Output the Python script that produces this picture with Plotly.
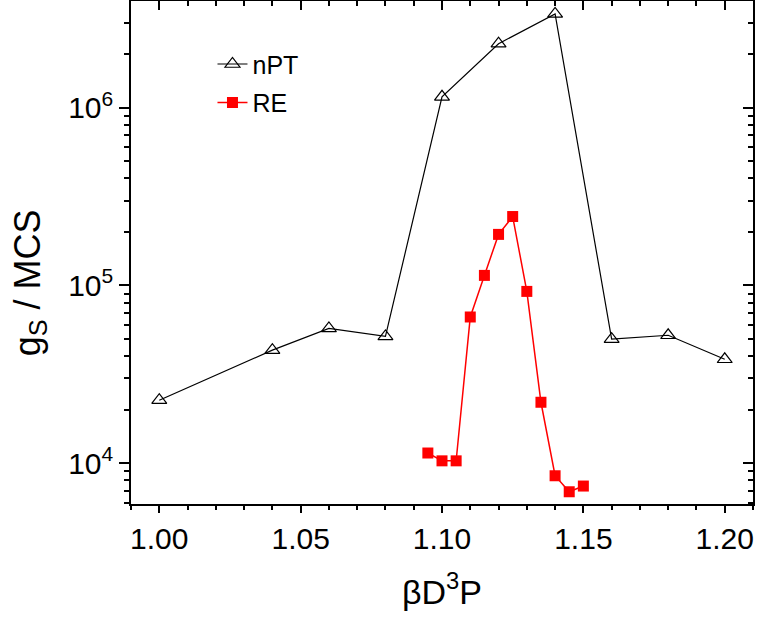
import plotly.graph_objects as go

npt_x = [1.00, 1.04, 1.06, 1.08, 1.10, 1.12, 1.14, 1.16, 1.18, 1.20]
npt_y = [22600, 43200, 57300, 51600, 1.15e6, 2.29e6, 3.37e6, 49800, 52400, 38400]

re_x = [1.095, 1.100, 1.105, 1.110, 1.115, 1.120, 1.125, 1.130, 1.135, 1.140, 1.145, 1.150]
re_y = [11400, 10300, 10300, 66400, 113800, 193600, 244000, 92500, 22000, 8490, 6900, 7430]

x_ticks = [1.00, 1.05, 1.10, 1.15, 1.20]
x_ticktext = ["1.00", "1.05", "1.10", "1.15", "1.20"]
y_ticks = [1e4, 1e5, 1e6]
y_ticktext = ["10<sup>4</sup>", "10<sup>5</sup>", "10<sup>6</sup>"]
y_minor = [k * 10 ** n for n in (3, 4, 5, 6) for k in range(2, 10)]

FONT = "Liberation Sans, Arial, sans-serif"
X_RANGE = [0.99, 1.21]
Y_RANGE = [3.77, 6.60]

fig = go.Figure()
fig.add_trace(go.Scatter(
    x=npt_x, y=npt_y, name="nPT", mode="lines+markers",
    line=dict(color="black", width=1.2),
    marker=dict(symbol="triangle-up-open", size=13, color="black", line=dict(width=1.2)),
    legendgroup="a",
))
fig.add_trace(go.Scatter(
    x=re_x, y=re_y, name="RE", mode="lines+markers",
    line=dict(color="#ff0000", width=1.5),
    marker=dict(symbol="square", size=11, color="#ff0000"),
    legendgroup="b",
))
# mirror axes (inside ticks on top/right)
fig.add_trace(go.Scatter(x=npt_x, y=npt_y, xaxis="x2", yaxis="y2", mode="markers",
                         marker=dict(opacity=0), showlegend=False, hoverinfo="skip"))

fig.update_layout(
    width=758, height=623,
    margin=dict(l=131, r=5, t=1, b=119),
    paper_bgcolor="white", plot_bgcolor="white",
    font=dict(family=FONT, color="black"),
    showlegend=True,
    legend=dict(x=0.131, y=0.92, xanchor="left", yanchor="top",
                font=dict(size=25, family=FONT), bgcolor="rgba(0,0,0,0)",
                traceorder="grouped", tracegroupgap=3),
    xaxis=dict(
        range=X_RANGE, showgrid=False, zeroline=False,
        showline=True, linecolor="black", linewidth=1.6,
        ticks="outside", ticklen=7, tickwidth=1.5, tickcolor="black",
        tickvals=x_ticks, ticktext=x_ticktext,
        tickfont=dict(size=30, family=FONT),
        minor=dict(dtick=0.01, tick0=0.99, ticks="outside", ticklen=4, tickwidth=1.5, tickcolor="black"),
        title=dict(text="βD<sup>3</sup>P", font=dict(size=34, family=FONT), standoff=26),
    ),
    yaxis=dict(
        type="log", range=Y_RANGE, showgrid=False, zeroline=False,
        showline=True, linecolor="black", linewidth=1.6,
        ticks="outside", ticklen=10, tickwidth=1.5, tickcolor="black",
        tickvals=y_ticks, ticktext=y_ticktext,
        tickfont=dict(size=30, family=FONT),
        minor=dict(tickmode="array", tickvals=y_minor, ticks="outside", ticklen=5, tickwidth=1.5, tickcolor="black"),
    ),
    xaxis2=dict(
        overlaying="x", side="top", anchor="y", range=X_RANGE, showgrid=False, zeroline=False,
        showline=True, linecolor="black", linewidth=1.6,
        ticks="inside", ticklen=9, tickwidth=1.5, tickcolor="black",
        tickvals=x_ticks, showticklabels=False,
        minor=dict(dtick=0.01, tick0=0.99, ticks="inside", ticklen=5, tickwidth=1.5, tickcolor="black"),
    ),
    yaxis2=dict(
        overlaying="y", side="right", anchor="x", type="log", range=Y_RANGE,
        showgrid=False, zeroline=False,
        showline=True, linecolor="black", linewidth=1.6,
        ticks="inside", ticklen=10, tickwidth=1.5, tickcolor="black",
        tickvals=y_ticks, showticklabels=False,
        minor=dict(tickmode="array", tickvals=y_minor, ticks="inside", ticklen=5, tickwidth=1.5, tickcolor="black"),
    ),
    annotations=[dict(
        text="g<sub>S</sub> / MCS", textangle=-90, showarrow=False,
        xref="paper", yref="paper", x=-0.163, y=0.44, xanchor="center", yanchor="middle",
        font=dict(size=36, family=FONT),
    )],
)

fig.write_html("out.html")
